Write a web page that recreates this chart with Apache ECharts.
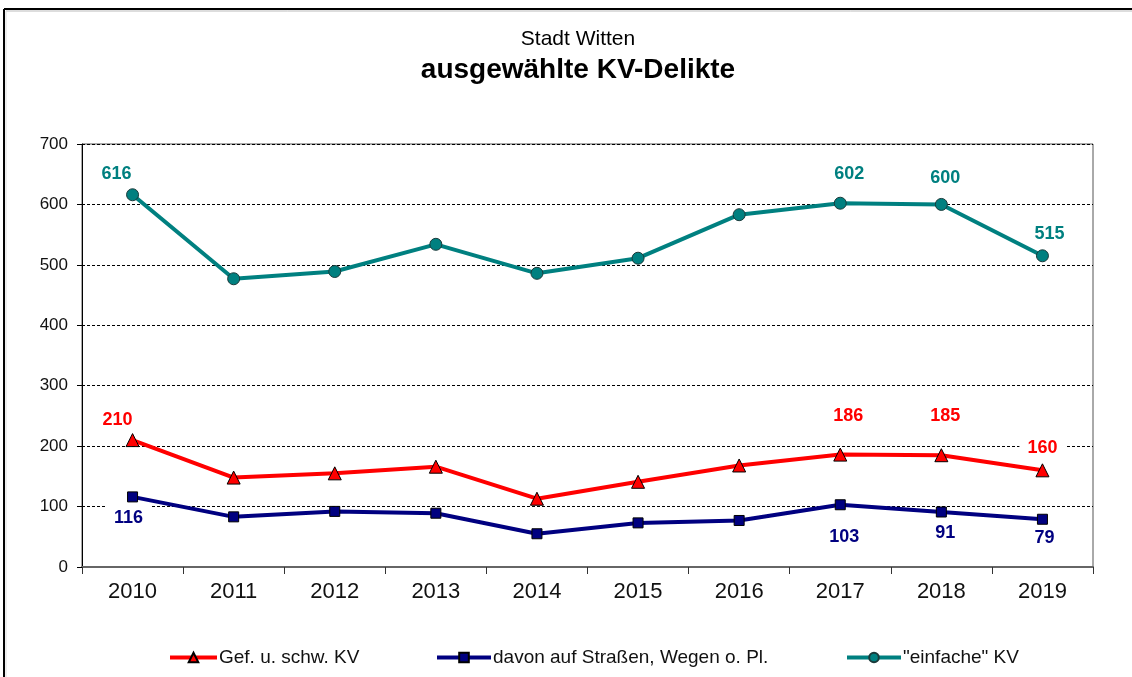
<!DOCTYPE html>
<html>
<head>
<meta charset="utf-8">
<script src="https://cdn.jsdelivr.net/npm/echarts@6/dist/echarts.min.js"></script>
<style>
  html, body { margin: 0; padding: 0; background: #fff; }
  #chart { width: 1132px; height: 677px; }
</style>
</head>
<body>
<div id="chart"></div>
<script>
// Jahre (Kategorien)
const years = ['2010', '2011', '2012', '2013', '2014', '2015', '2016', '2017', '2018', '2019'];

// Fallzahlen je Deliktgruppe
const gefSchwKV = [210, 148, 155, 166, 113, 141, 168, 186, 185, 160];
const strassenKV = [116, 83, 92, 89, 55, 73, 77, 103, 91, 79];
const einfacheKV = [616, 477, 489, 534, 486, 511, 583, 602, 600, 515];

// Jahre, deren Werte beschriftet werden
const labelledYears = ['2010', '2017', '2018', '2019'];

// Y-Achse
const yMin = 0, yMax = 700, yStep = 100;

const FONT = '"Liberation Sans", Arial, sans-serif';

// Lage der Wertbeschriftungen relativ zum Symbol (je Jahr)
const labelOffsets = {
  teal: { '2010': [-16, -21], '2017': [9, -29], '2018': [4, -26], '2019': [7, -22] },
  red:  { '2010': [-15, -20], '2017': [8, -39], '2018': [4, -39], '2019': [0, -22] },
  navy: { '2010': [-4, 21],   '2017': [4, 32],  '2018': [4, 21],  '2019': [2, 19] }
};

function buildData(values, key, color, boxed) {
  return values.map((v, i) => {
    const y = years[i];
    if (labelledYears.indexOf(y) < 0) return v;
    const off = labelOffsets[key][y];
    const lbl = {
      show: true,
      position: 'inside',
      offset: off,
      color: color,
      fontFamily: FONT,
      fontWeight: 'bold',
      fontSize: 18
    };
    if (boxed && boxed[y]) {
      lbl.backgroundColor = '#fff';
      lbl.padding = boxed[y];
    }
    return { value: v, label: lbl };
  });
}

const chart = echarts.init(document.getElementById('chart'));

const legendText = { fontFamily: FONT, fontSize: 19, color: '#111', padding: [0, 0, 0, -3] };

const option = {
  backgroundColor: '#fff',
  animation: false,
  title: [
    {
      text: 'Stadt Witten',
      left: 573, top: 24, textAlign: 'center',
      textStyle: { fontFamily: FONT, fontWeight: 'normal', fontSize: 21, color: '#000' }
    },
    {
      text: 'ausgewählte KV-Delikte',
      left: 573, top: 51, textAlign: 'center',
      textStyle: { fontFamily: FONT, fontWeight: 'bold', fontSize: 28, color: '#000' }
    }
  ],
  legend: [
    {
      data: ['Gef. u. schw. KV'],
      left: 163, top: 643, itemWidth: 47, itemHeight: 12, itemGap: 0,
      lineStyle: { width: 4 },
      textStyle: legendText
    },
    {
      data: ['davon auf Straßen, Wegen o. Pl.'],
      left: 430, top: 643, itemWidth: 54, itemHeight: 12, itemGap: 0,
      lineStyle: { width: 4 },
      textStyle: legendText
    },
    {
      data: ['"einfache" KV'],
      left: 840, top: 643, itemWidth: 54, itemHeight: 12, itemGap: 0,
      lineStyle: { width: 4 },
      textStyle: legendText
    }
  ],
  grid: {
    left: 82, right: 39, top: 144, bottom: 110,
    show: true, borderColor: '#555', borderWidth: 1, backgroundColor: '#fff'
  },
  xAxis: {
    type: 'category',
    data: years,
    boundaryGap: true,
    axisLine: { lineStyle: { color: '#666', width: 2 } },
    axisTick: { show: true, length: 7, lineStyle: { color: '#333', width: 1 } },
    axisLabel: { fontFamily: FONT, fontSize: 22, color: '#111', margin: 14 },
    splitLine: { show: false }
  },
  yAxis: {
    type: 'value',
    min: yMin, max: yMax, interval: yStep,
    axisLine: { show: true, lineStyle: { color: '#000', width: 1 } },
    axisTick: { show: true, length: 5, lineStyle: { color: '#000' } },
    axisLabel: { fontFamily: FONT, fontSize: 17, color: '#111', margin: 14 },
    splitLine: { show: true, lineStyle: { color: '#000', width: 1, type: [3, 2] } }
  },
  series: [
    {
      name: 'Gef. u. schw. KV',
      type: 'line',
      data: buildData(gefSchwKV, 'red', '#ff0000', { '2019': [2, 8, 2, 8] }),
      symbol: 'triangle', symbolSize: 13,
      lineStyle: { color: '#ff0000', width: 4 },
      itemStyle: { color: '#ff0000', borderColor: '#000', borderWidth: 1 },
      z: 3
    },
    {
      name: 'davon auf Straßen, Wegen o. Pl.',
      type: 'line',
      data: buildData(strassenKV, 'navy', '#000080', { '2010': [9, 8, 2, 8] }),
      symbol: 'rect', symbolSize: 10,
      lineStyle: { color: '#000080', width: 4 },
      itemStyle: { color: '#000080', borderColor: '#000', borderWidth: 1 },
      z: 2
    },
    {
      name: '"einfache" KV',
      type: 'line',
      data: buildData(einfacheKV, 'teal', '#008080'),
      symbol: 'circle', symbolSize: 12,
      lineStyle: { color: '#008080', width: 4 },
      itemStyle: { color: '#008080', borderColor: '#1a3a3a', borderWidth: 1 },
      z: 4
    }
  ],
  graphic: [
    // Rahmen der Grafik (oben und links) mit leichtem Schatten
    { type: 'line', shape: { x1: 4, y1: 9, x2: 1132, y2: 9 }, style: { stroke: '#000', lineWidth: 2 } },
    { type: 'line', shape: { x1: 4, y1: 9, x2: 4, y2: 677 }, style: { stroke: '#000', lineWidth: 2 } },
    { type: 'line', shape: { x1: 6, y1: 11, x2: 1132, y2: 11 }, style: { stroke: '#bbb', lineWidth: 1 } },
    { type: 'line', shape: { x1: 6, y1: 11, x2: 6, y2: 677 }, style: { stroke: '#ddd', lineWidth: 1 } }
  ]
};

chart.setOption(option);
</script>
</body>
</html>
